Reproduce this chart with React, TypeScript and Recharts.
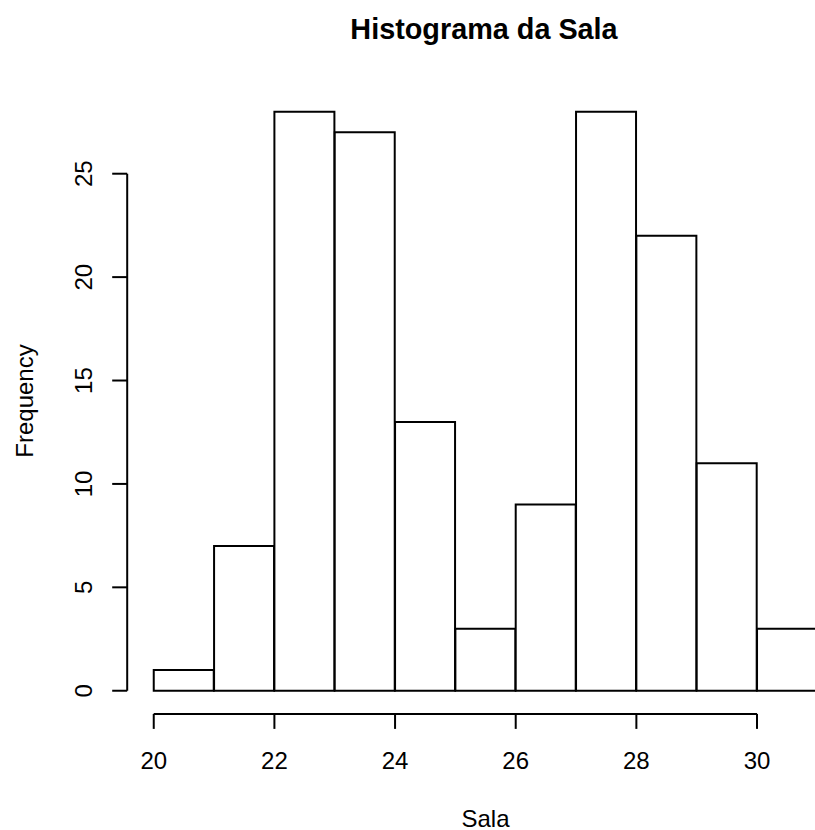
import React from 'react';
import {
  ComposedChart,
  Bar,
  XAxis,
  YAxis,
  ReferenceLine,
  Customized,
} from 'recharts';

// histogram bins of width 1, from 20 to 31
const binLabels = ['20-21', '21-22', '22-23', '23-24', '24-25', '25-26', '26-27', '27-28', '28-29', '29-30', '30-31'];
const binStarts = [20, 21, 22, 23, 24, 25, 26, 27, 28, 29, 30];
const counts = [1, 7, 28, 27, 13, 3, 9, 28, 22, 11, 3];
const xTicks = [20, 22, 24, 26, 28, 30];
const yTicks = [0, 5, 10, 15, 20, 25];

const data = binLabels.map((bin, i) => ({ bin, start: binStarts[i], count: counts[i] }));

// base-graphics style 4% axis extension
const xLo = 20;
const xHi = 31;
const xPad = (xHi - xLo) * 0.04;
const yMax = Math.max(...counts);
const yPad = yMax * 0.04;

const FONT = '"Liberation Sans", Arial, Helvetica, sans-serif';

const XTick = (props: any) => {
  const { x, y, payload } = props;
  return (
    <text x={x} y={y} textAnchor="middle" fontSize={24} fontFamily={FONT} fill="#000">
      {payload.value}
    </text>
  );
};

const YTick = (props: any) => {
  const { x, y, payload } = props;
  return (
    <text
      x={x}
      y={y}
      transform={`rotate(-90 ${x} ${y})`}
      textAnchor="middle"
      fontSize={24}
      fontFamily={FONT}
      fill="#000"
    >
      {payload.value}
    </text>
  );
};

const Titles = () => (
  <g fontFamily={FONT} fill="#000">
    <text x={484} y={38.5} textAnchor="middle" fontSize={28.8} fontWeight="bold">
      Histograma da Sala
    </text>
    <text x={485.5} y={826.5} textAnchor="middle" fontSize={24}>
      Sala
    </text>
    <text x={33.3} y={401} transform="rotate(-90 33.3 401)" textAnchor="middle" fontSize={24}>
      Frequency
    </text>
  </g>
);

export default function App() {
  const bandPad = (xPad / (xHi - xLo + 2 * xPad)) * 716.7;
  return (
    <div
      style={{
        position: 'absolute',
        left: 0,
        top: 0,
        width: 815,
        height: 830,
        overflow: 'hidden',
        background: '#fff',
      }}
    >
      <ComposedChart
        width={900}
        height={830}
        data={data}
        margin={{ top: 88.5, right: 56.1, bottom: 0, left: 0 }}
        barCategoryGap={0}
        barGap={0}
      >
        <XAxis
          xAxisId="num"
          dataKey="start"
          type="number"
          domain={[xLo - xPad, xHi + xPad]}
          allowDataOverflow
          ticks={xTicks}
          interval={0}
          axisLine={false}
          tickLine={{ stroke: '#000', strokeWidth: 2 }}
          tickSize={15}
          tickMargin={40.1}
          tick={<XTick />}
          height={116.1}
        />
        <XAxis
          xAxisId="bins"
          dataKey="bin"
          type="category"
          hide
          height={0}
          padding={{ left: bandPad, right: bandPad }}
        />
        <YAxis
          type="number"
          domain={[-yPad, yMax + yPad]}
          allowDataOverflow
          ticks={yTicks}
          interval={0}
          axisLine={false}
          tickLine={{ stroke: '#000', strokeWidth: 2 }}
          tickSize={15}
          tickMargin={19.9}
          tick={<YTick />}
          width={127.2}
        />
        <Bar
          xAxisId="bins"
          dataKey="count"
          fill="#ffffff"
          stroke="#000"
          strokeWidth={2}
          isAnimationActive={false}
        />
        <ReferenceLine
          xAxisId="num"
          segment={[
            { x: xTicks[0], y: -yPad },
            { x: xTicks[xTicks.length - 1], y: -yPad },
          ]}
          stroke="#000"
          strokeWidth={2}
          ifOverflow="visible"
        />
        <ReferenceLine
          xAxisId="num"
          segment={[
            { x: xLo - xPad, y: yTicks[0] },
            { x: xLo - xPad, y: yTicks[yTicks.length - 1] },
          ]}
          stroke="#000"
          strokeWidth={2}
          ifOverflow="visible"
        />
        <Customized component={Titles} />
      </ComposedChart>
    </div>
  );
}
